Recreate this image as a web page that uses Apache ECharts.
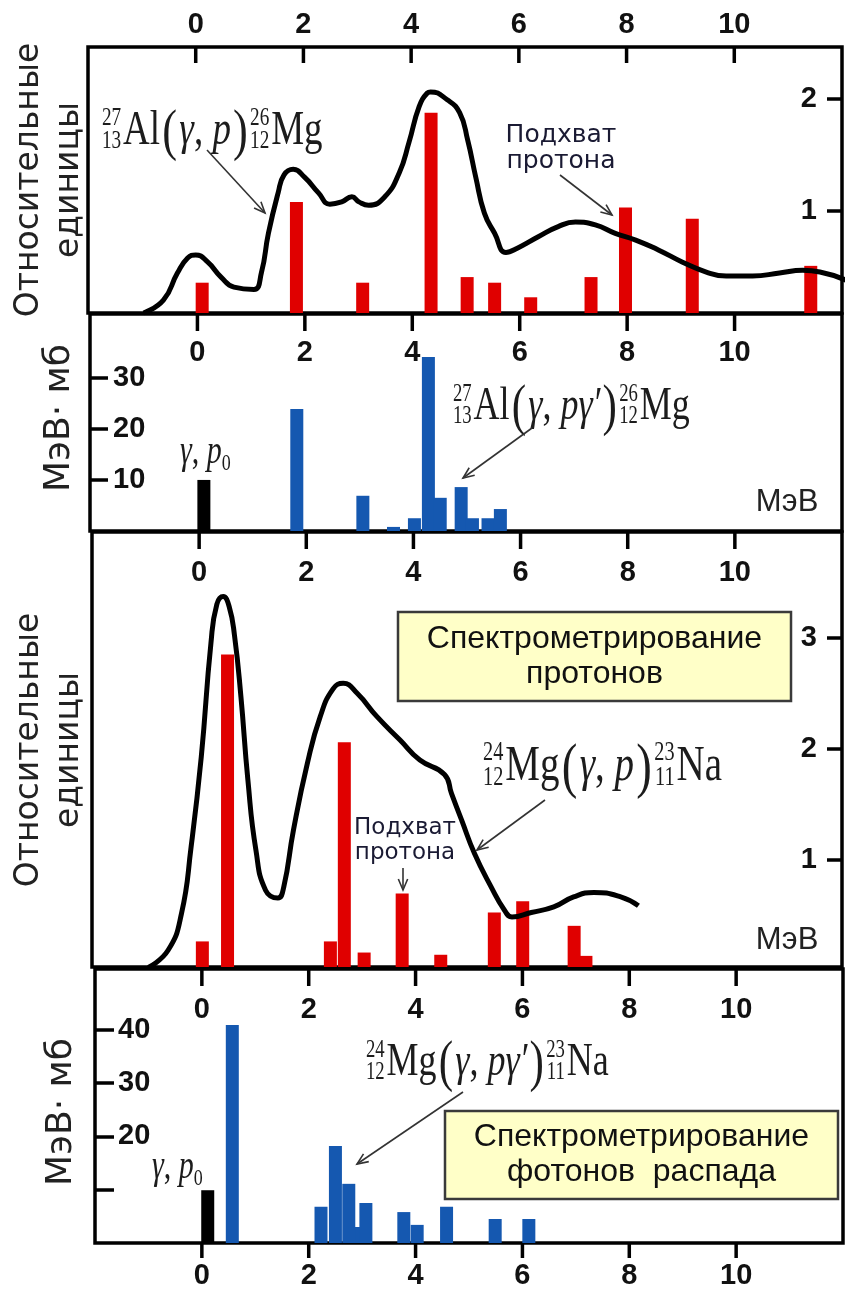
<!DOCTYPE html>
<html><head><meta charset="utf-8">
<script src="https://cdn.jsdelivr.net/npm/echarts@6.0.0/dist/echarts.min.js"></script>
<style>html,body{margin:0;padding:0;background:#fff}#c{width:845px;height:1291px}</style>
</head><body><div id="c"></div>
<script>
// ---------- DATA ----------
const xTickValues = [0, 2, 4, 6, 8, 10];

// Panel 1: 27Al(g,p)26Mg, relative units
const p1BarE = [0.12, 1.87, 3.1, 4.37, 5.04, 5.55, 6.22, 7.34, 7.98, 9.22, 11.42];
const p1BarV = [0.36, 1.08, 0.36, 1.875, 0.41, 0.36, 0.23, 0.41, 1.03, 0.93, 0.51];
const p1CurveE = [-0.97,-0.60,-0.34,-0.15,0.0,0.22,0.47,0.71,1.08,1.22,1.35,1.53,1.64,1.81,2.02,2.28,2.49,2.71,2.90,3.03,3.21,3.51,3.78,3.96,4.15,4.30,4.36,4.67,4.90,5.05,5.20,5.36,5.55,5.76,5.98,6.36,6.73,7.05,7.42,7.79,8.17,8.60,9.03,9.48,9.85,10.34,10.84,11.27,11.59,12.09];
const p1CurveV = [0.09,0.205,0.446,0.58,0.607,0.545,0.41,0.32,0.30,0.45,0.80,1.16,1.32,1.37,1.30,1.16,1.06,1.08,1.125,1.08,1.05,1.125,1.34,1.61,1.93,2.05,2.06,1.99,1.875,1.63,1.30,0.98,0.80,0.63,0.67,0.77,0.86,0.90,0.875,0.80,0.74,0.65,0.545,0.455,0.42,0.42,0.446,0.47,0.455,0.38];
const p1YTicks = [1, 2];

// Panel 2: 27Al(g,pg')26Mg, MeV*mb
const p2BlackE = [0.12];
const p2BlackV = [10.0];
const p2BlueE = [1.85, 3.08, 3.65, 4.04, 4.3, 4.52, 4.91, 5.12, 5.41, 5.64];
const p2BlueV = [23.9, 6.9, 0.8, 2.5, 34.1, 6.5, 8.6, 2.5, 2.5, 4.3];
const p2YTicks = [10, 20, 30];

// Panel 3: 24Mg(g,p)23Na, relative units
const p3BarE = [0.06, 0.53, 2.45, 2.71, 3.08, 3.79, 4.51, 5.51, 6.04, 7.0, 7.22];
const p3BarV = [0.27, 2.85, 0.27, 2.06, 0.17, 0.70, 0.15, 0.53, 0.63, 0.41, 0.14];
const p3CurveE = [-0.95,-0.58,-0.33,-0.15,0.04,0.22,0.33,0.45,0.56,0.66,0.78,0.91,1.06,1.24,1.47,1.58,1.76,2.02,2.26,2.50,2.69,2.95,3.32,3.75,4.12,4.58,4.71,4.90,5.14,5.45,5.70,5.84,6.20,6.62,6.99,7.37,7.87,8.20];
const p3CurveV = [0.036,0.19,0.52,1.12,1.93,2.95,3.30,3.37,3.28,3.02,2.47,1.72,1.09,0.73,0.66,0.76,1.27,1.87,2.29,2.54,2.59,2.50,2.29,2.08,1.90,1.77,1.60,1.36,1.06,0.76,0.55,0.49,0.53,0.58,0.67,0.71,0.67,0.59];
const p3YTicks = [1, 2, 3];

// Panel 4: 24Mg(g,pg')23Na, MeV*mb
const p4BlackE = [0.11];
const p4BlackV = [9.9];
const p4BlueE = [0.57, 2.23, 2.87, 2.5, 2.75, 3.07, 3.78, 4.03, 4.58, 5.49, 6.12];
const p4BlueV = [40.9, 6.8, 3.0, 18.2, 11.1, 7.5, 5.8, 3.4, 6.8, 4.5, 4.5];
const p4YTickValues = [10, 20, 30, 40];
const p4YLabelValues = [20, 30, 40];

// ---------- TEXTS ----------
const relUnits = 'Относительные\nединицы';
const mevMb = 'МэВ· мб';
const mev = 'МэВ';
const capture = 'Подхват\nпротона';
const box1Text = 'Спектрометрирование\nпротонов';
const box2Text = 'Спектрометрирование\nфотонов  распада';

// ---------- HELPERS ----------
const zip = (a, b) => a.map((v, i) => [v, b[i]]);
const mctx = document.createElement('canvas').getContext('2d');
const measure = (t, font) => { mctx.font = font; return mctx.measureText(t).width; };
const SERIF = '"Liberation Serif", "Times New Roman", serif';
const FC = '#1c1c1c';

function formula(x0, base, parts, size, sy) {
  const ch = []; let x = 0;
  const put = (text, xx, b, fs, italic, align) => {
    const font = (italic ? 'italic ' : '') + fs + 'px ' + SERIF;
    ch.push({ type: 'text', style: { text, x: xx, y: b - 0.32 * fs, font, fill: FC,
      textAlign: align || 'left', align: align || 'left', textVerticalAlign: 'middle', verticalAlign: 'middle' } });
    return measure(text, font);
  };
  for (const p of parts) {
    if (p.pre) {
      const fs = size * 0.52, font = fs + 'px ' + SERIF;
      const w = Math.max(measure(p.pre[0], font), measure(p.pre[1], font));
      put(p.pre[0], x + w, -size * 0.42, fs, false, 'right');
      put(p.pre[1], x + w, size * 0.06, fs, false, 'right');
      x += w + size * 0.05;
    } else if (p.sub) {
      x += put(p.sub, x, size * 0.15, size * 0.6, false);
    } else if (p.par) {
      x += size * 0.06;
      x += put(p.t, x, size * 0.12, size * 1.2, false) + size * 0.06;
    } else {
      x += put(p.t, x, 0, size, p.it);
    }
  }
  return { type: 'group', x: x0, y: base, scaleY: sy, children: ch };
}

function arrow(x1, y1, x2, y2) {
  const a = Math.atan2(y2 - y1, x2 - x1), L = 12, s = 0.4;
  const p1 = [x2 - L * Math.cos(a - s), y2 - L * Math.sin(a - s)];
  const p2 = [x2 - L * Math.cos(a + s), y2 - L * Math.sin(a + s)];
  return { type: 'group', children: [
    { type: 'line', shape: { x1, y1, x2, y2 }, style: { stroke: '#333', lineWidth: 1.6 } },
    { type: 'polyline', shape: { points: [p1, [x2, y2], p2] }, style: { stroke: '#333', lineWidth: 1.6, fill: null } }
  ] };
}

function txt(x, y, text, font, opts) {
  opts = opts || {};
  return { type: 'text', x, y, rotation: opts.rot || 0, style: { text, x: 0, y: 0, font, fill: opts.fill || '#1a1a1a',
    textAlign: 'center', align: 'center', textVerticalAlign: 'middle', verticalAlign: 'middle', lineHeight: opts.lh } };
}

function box(x, y, w, h, text) {
  return { type: 'group', children: [
    { type: 'rect', shape: { x, y, width: w, height: h }, style: { fill: '#FFFFC8', stroke: '#3a3a3a', lineWidth: 2.5 } },
    txt(x + w / 2, y + h / 2, text, '32px "Liberation Sans", Arial, sans-serif', { lh: 35, fill: '#111' })
  ] };
}

const F1 = [{pre:['27','13']},{t:'Al'},{t:'(',par:1},{t:'γ',it:1},{t:', '},{t:'p',it:1},{t:')',par:1},{pre:['26','12']},{t:'Mg'}];
const F2 = [{pre:['27','13']},{t:'Al'},{t:'(',par:1},{t:'γ',it:1},{t:', '},{t:'pγ′',it:1},{t:')',par:1},{pre:['26','12']},{t:'Mg'}];
const F3 = [{pre:['24','12']},{t:'Mg'},{t:'(',par:1},{t:'γ',it:1},{t:', '},{t:'p',it:1},{t:')',par:1},{pre:['23','11']},{t:'Na'}];
const F4 = [{pre:['24','12']},{t:'Mg'},{t:'(',par:1},{t:'γ',it:1},{t:', '},{t:'pγ′',it:1},{t:')',par:1},{pre:['23','11']},{t:'Na'}];
const G0 = [{t:'γ',it:1},{t:', '},{t:'p',it:1},{sub:'0'}];

// ---------- AXES ----------
const tickLabel = { fontFamily: '"Liberation Sans", Arial, sans-serif', fontWeight: 'bold', fontSize: 29, color: '#111' };

function xAx(grid, pos, labelInside, margin) {
  return { type: 'value', gridIndex: grid, position: pos, min: -2, max: 12, interval: 2,
    axisLine: { show: false, onZero: false }, splitLine: { show: false }, axisTick: { show: false },
    axisLabel: Object.assign({ inside: labelInside, margin, customValues: xTickValues }, tickLabel) };
}
function yAx(grid, pos, min, max, ticks, labels, len, margin) {
  return { type: 'value', gridIndex: grid, position: pos, min, max,
    axisLine: { show: false, onZero: false }, splitLine: { show: false },
    axisTick: { show: true, inside: true, length: len, customValues: ticks, lineStyle: { color: '#000', width: 3.5 } },
    axisLabel: Object.assign({ inside: true, margin, customValues: labels }, tickLabel) };
}

// x-axis tick marks drawn by a custom series on each panel's own coordinate system
function tickSeries(xi, yi, side, len) {
  return {
    type: 'custom', xAxisIndex: xi, yAxisIndex: yi, z: 6, clip: false, silent: true,
    encode: { x: 0, y: 1 },
    data: xTickValues.map(v => [v, 0]),
    renderItem: function (params, api) {
      const px = api.coord([api.value(0), api.value(1)])[0];
      const cs = params.coordSys;
      const y1 = side === 'top' ? cs.y : cs.y + cs.height;
      const y2 = y1 + len;
      return { type: 'line', shape: { x1: px, y1: y1, x2: px, y2: y2 },
        style: { stroke: '#000', lineWidth: 3.5, fill: null } };
    }
  };
}

const grids = [
  { left: 88, right: 3, top: 47, height: 266 },
  { left: 90, right: 3, top: 314, height: 217 },
  { left: 92, right: 3, top: 532, height: 435 },
  { left: 95, right: 2, top: 969, height: 274 }
];

const option = {
  animation: false,
  backgroundColor: '#fff',
  grid: grids.map(g => Object.assign({ show: true, borderColor: '#000', borderWidth: 3.5, backgroundColor: 'transparent' }, g)),
  xAxis: [
    xAx(0, 'top', false, 8),
    xAx(1, 'top', true, 24),
    xAx(2, 'top', true, 26),
    xAx(3, 'top', true, 26),
    xAx(3, 'bottom', false, 18)
  ],
  yAxis: [
    yAx(0, 'right', 0.09, 2.46, p1YTicks, p1YTicks, 15, 25),
    yAx(1, 'left', 0, 42.5, p2YTicks, p2YTicks, 18, 23),
    yAx(2, 'right', 0.04, 3.95, p3YTicks, p3YTicks, 15, 25),
    yAx(3, 'left', 0, 51.4, p4YTickValues, p4YLabelValues, 19, 23)
  ],
  series: [
    { type: 'bar', xAxisIndex: 0, yAxisIndex: 0, barWidth: 13, z: 2,
      itemStyle: { color: '#E00000' }, data: zip(p1BarE, p1BarV) },
    { type: 'line', xAxisIndex: 0, yAxisIndex: 0, z: 3, smooth: 0.5, symbol: 'none',
      lineStyle: { color: '#000', width: 5 }, data: zip(p1CurveE, p1CurveV) },
    { type: 'bar', xAxisIndex: 1, yAxisIndex: 1, barWidth: 13, z: 2,
      itemStyle: { color: '#1558B0' },
      data: zip(p2BlackE, p2BlackV).map(v => ({ value: v, itemStyle: { color: '#000' } })).concat(zip(p2BlueE, p2BlueV)) },
    { type: 'bar', xAxisIndex: 2, yAxisIndex: 2, barWidth: 13, z: 2,
      itemStyle: { color: '#E00000' }, data: zip(p3BarE, p3BarV) },
    { type: 'line', xAxisIndex: 2, yAxisIndex: 2, z: 3, smooth: 0.5, symbol: 'none',
      lineStyle: { color: '#000', width: 5 }, data: zip(p3CurveE, p3CurveV) },
    { type: 'bar', xAxisIndex: 3, yAxisIndex: 3, barWidth: 13, z: 2,
      itemStyle: { color: '#1558B0' },
      data: zip(p4BlackE, p4BlackV).map(v => ({ value: v, itemStyle: { color: '#000' } })).concat(zip(p4BlueE, p4BlueV)) },
    tickSeries(0, 0, 'top', 16),
    tickSeries(1, 1, 'top', 17),
    tickSeries(2, 2, 'top', 17),
    tickSeries(3, 3, 'top', 17),
    tickSeries(4, 3, 'bottom', 15)
  ],
  graphic: [
    txt(49, 180, relUnits, '33px "DejaVu Sans", sans-serif', { rot: Math.PI / 2, lh: 40, fill: '#222' }),
    txt(60, 418, mevMb, '36px "DejaVu Sans", sans-serif', { rot: Math.PI / 2, fill: '#222' }),
    txt(49, 750, relUnits, '33px "DejaVu Sans", sans-serif', { rot: Math.PI / 2, lh: 40, fill: '#222' }),
    txt(62, 1112, mevMb, '36px "DejaVu Sans", sans-serif', { rot: Math.PI / 2, fill: '#222' }),
    formula(102, 147, F1, 37, 1.3),
    arrow(207, 150, 265, 213),
    txt(561, 148, capture, '25px "DejaVu Sans", sans-serif', { lh: 26, fill: '#1a1a33' }),
    arrow(560, 175, 612, 215),
    formula(180, 465, G0, 30, 1.3),
    formula(453, 422, F2, 36, 1.3),
    arrow(532, 428, 463, 478),
    txt(787, 502, mev, '31px "Liberation Sans", Arial, sans-serif', { fill: '#222' }),
    box(398, 612, 393, 89, box1Text),
    formula(483, 783, F3, 39, 1.3),
    arrow(545, 800, 477, 850),
    txt(405, 841, capture, '23px "DejaVu Sans", sans-serif', { lh: 25, fill: '#1a1a33' }),
    arrow(403, 868, 403, 890),
    txt(787, 940, mev, '31px "Liberation Sans", Arial, sans-serif', { fill: '#222' }),
    formula(152, 1180, G0, 30, 1.3),
    formula(366, 1078, F4, 36, 1.3),
    arrow(463, 1092, 357, 1164),
    box(445, 1111, 393, 88, box2Text)
  ]
};

const chart = echarts.init(document.getElementById('c'));
chart.setOption(option);
</script></body></html>
